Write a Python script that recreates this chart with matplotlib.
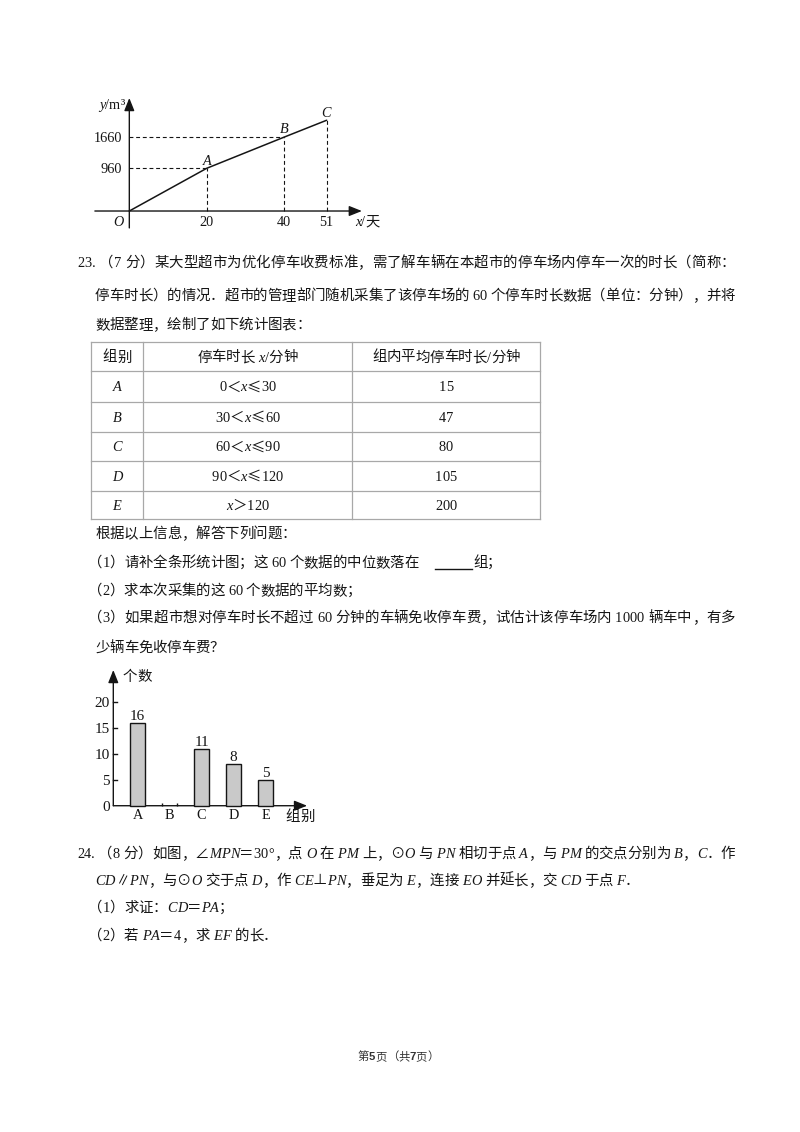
import matplotlib
matplotlib.use('Agg')
import matplotlib.pyplot as plt
from matplotlib.transforms import Affine2D
from matplotlib.font_manager import FontProperties
from matplotlib.lines import Line2D

# ---------------- data ----------------
days = [0, 20, 40, 51]
volume = [0, 960, 1660, 2040]
point_names = ['', 'A', 'B', 'C']
top_yticks = [960, 1660]
top_xticks = [20, 40, 51]

table_groups = ['A', 'B', 'C', 'D', 'E']
range_low = ['0', '30', '60', '90', None]
range_high = ['30', '60', '90', '120', '120']
group_means = ['15', '47', '80', '105', '200']

bar_groups = ['A', 'B', 'C', 'D', 'E']
bar_counts = [16, None, 11, 8, 5]      # group B left blank in the problem
bar_yticks = [0, 5, 10, 15, 20]

# ---------------- page setup ----------------
W, H = 800, 1132
fig = plt.figure(figsize=(W / 100, H / 100), dpi=100)
fig.patch.set_facecolor('white')
PX = Affine2D().scale(1 / W, -1 / H).translate(0, 1) + fig.transFigure
renderer = fig.canvas.get_renderer()
INK = '#151515'
BODY = 10.4

STYLES = {
    'n': (['Liberation Serif', 'Noto Sans CJK SC', 'DejaVu Serif'], 'normal', 'normal'),
    'i': (['Liberation Serif', 'Noto Sans CJK SC', 'DejaVu Serif'], 'italic', 'normal'),
    'c': (['Noto Sans CJK SC', 'Liberation Serif', 'DejaVu Sans'], 'normal', 'normal'),
    's': (['Noto Sans CJK SC', 'Liberation Sans'], 'normal', 'normal'),
    'sb': (['Liberation Sans', 'Noto Sans CJK SC'], 'normal', 'bold'),
}
_cache = {}


def fprop(st, size):
    fam, sty, wt = STYLES[st]
    return FontProperties(family=fam, style=sty, weight=wt, size=size)


def adv(ch, st, size):
    key = (ch, st, size)
    if key not in _cache:
        fp = fprop(st, size)
        w1 = renderer.get_text_width_height_descent('a' + ch + 'a', fp, ismath=False)[0]
        w0 = renderer.get_text_width_height_descent('aa', fp, ismath=False)[0]
        _cache[key] = w1 - w0
    return _cache[key]


def draw_line(x, y, segs, size=BODY, right=None, center=None, color=INK):
    items = [(ch, st) for s, st in segs for ch in s]
    ws = [adv(ch, st, size) for ch, st in items]
    total = sum(ws)
    extra = 0.0
    if right is not None and len(items) > 1:
        extra = (right - x - total) / (len(items) - 1)
    if center is not None:
        x = center - total / 2
    cx = x
    for (ch, st), w in zip(items, ws):
        if ch != ' ':
            fam, sty, wt = STYLES[st]
            fig.text(cx, y, ch, transform=PX, fontsize=size, family=fam,
                     style=sty, weight=wt, ha='left', va='baseline', color=color)
        cx += w + extra
    return cx


def N(s):
    return (s, 'n')


def I(s):
    return (s, 'i')


# ---------------- top chart ----------------
ax1 = fig.add_axes([90 / W, 1 - 235 / H, 290 / W, 140 / H])
ax1.set_axis_off()
ax1.set_xlim(-10.16, 64.78)
ax1.set_ylim(-539, 2607)
arrow = dict(arrowstyle='-|>,head_length=0.55,head_width=0.22', color=INK,
             lw=1.0, mutation_scale=14, shrinkA=0, shrinkB=0)
ax1.annotate('', xy=(60.1, 0), xytext=(-8.9, 0), arrowprops=arrow)
ax1.annotate('', xy=(0, 2540), xytext=(0, -380), arrowprops=arrow)
ax1.plot(days, volume, color=INK, lw=1.1, solid_capstyle='round')
for k in range(1, len(days)):
    ax1.plot([days[k], days[k]], [0, volume[k]], color=INK, lw=0.8, dashes=(3.5, 2.5))
for yv in top_yticks:
    k = volume.index(yv)
    ax1.plot([0, days[k]], [yv, yv], color=INK, lw=0.8, dashes=(3.5, 2.5))
    ax1.annotate(str(yv), xy=(0, yv), xytext=(-7.6, -4.7), textcoords='offset pixels',
                 ha='right', va='baseline', fontsize=10.3, family='Liberation Serif', color=INK)
for xv in top_xticks:
    ax1.annotate(str(xv), xy=(xv, 0), xytext=(0, -15), textcoords='offset pixels',
                 ha='center', va='baseline', fontsize=10.3, family='Liberation Serif', color=INK)
ax1.annotate('O', xy=(0, 0), xytext=(-11, -15), textcoords='offset pixels',
             ha='center', va='baseline', fontsize=10.3, family='Liberation Serif',
             style='italic', color=INK)
label_off = {'A': (0, 3), 'B': (0, 4), 'C': (-1, 3)}
for k in range(1, len(days)):
    nm = point_names[k]
    ax1.annotate(nm, xy=(days[k], volume[k]), xytext=label_off[nm],
                 textcoords='offset pixels', ha='center', va='baseline', fontsize=10.3,
                 family='Liberation Serif', style='italic', color=INK)
draw_line(0, 109, [I('y'), N('/m³')], size=10.3, center=111.7)
draw_line(0, 225.5, [I('x'), N('/天')], size=10.3, center=367)

# ---------------- question 23 text ----------------
draw_line(77, 267, [N('23. （7 分）某大型超市为优化停车收费标准，需了解车辆在本超市的停车场内停车一次的时长（简称：')], right=735)
draw_line(95, 300, [N('停车时长）的情况．超市的管理部门随机采集了该停车场的 60 个停车时长数据（单位：分钟），并将')], right=735)
draw_line(95, 329, [N('数据整理，绘制了如下统计图表：')])

# ---------------- table ----------------
tab_left, tab_right = 91, 540
col_x = [91, 143, 351.7, 540]
row_y = [342, 371, 401.7, 431.7, 461, 490.7, 519]
TABC = '#a8a8a8'
for yy in row_y:
    fig.add_artist(Line2D([tab_left, tab_right], [yy, yy], transform=PX, color=TABC, lw=0.9))
for xx in col_x:
    fig.add_artist(Line2D([xx, xx], [row_y[0], row_y[-1]], transform=PX, color=TABC, lw=0.9))
ccols = [(col_x[i] + col_x[i + 1]) / 2 for i in range(3)]
hb = (row_y[0] + row_y[1]) / 2 + 5
draw_line(0, hb, [N('组别')], center=ccols[0])
draw_line(0, hb, [N('停车时长 '), I('x'), N('/分钟')], center=ccols[1])
draw_line(0, hb, [N('组内平均停车时长/分钟')], center=ccols[2])
for r, g in enumerate(table_groups):
    bl = (row_y[r + 1] + row_y[r + 2]) / 2 + 5
    draw_line(0, bl, [I(g)], center=ccols[0])
    if range_low[r] is None:
        segs = [I('x'), ('＞', 'c'), N(range_high[r])]
    else:
        segs = [N(range_low[r]), ('＜', 'c'), I('x'), ('≤', 'c'), N(range_high[r])]
    draw_line(0, bl, segs, center=ccols[1])
    draw_line(0, bl, [N(group_means[r])], center=ccols[2])

# ---------------- questions ----------------
PAREN_X = 88
draw_line(95, 538, [N('根据以上信息，解答下列问题：')])
draw_line(PAREN_X, 567, [N('（1）请补全条形统计图；这 60 个数据的中位数落在')])
fig.add_artist(Line2D([435, 472], [568.5, 568.5], transform=PX, color=INK, lw=1.0))
draw_line(473, 567, [N('组；')])
draw_line(PAREN_X, 595, [N('（2）求本次采集的这 60 个数据的平均数；')])
draw_line(PAREN_X, 622, [N('（3）如果超市想对停车时长不超过 60 分钟的车辆免收停车费，试估计该停车场内 1000 辆车中，有多')], right=735)
draw_line(95, 652, [N('少辆车免收停车费？')])

# ---------------- bar chart ----------------
ax2 = fig.add_axes([95 / W, 1 - 835 / H, 235 / W, 175 / H])
ax2.set_axis_off()
ax2.set_xlim(-1.328, 6.016)
ax2.set_ylim(-5.63, 28.02)
y_axis_x = -0.756
ax2.annotate('', xy=(y_axis_x, 26.1), xytext=(y_axis_x, 0), arrowprops=arrow)
ax2.annotate('', xy=(5.3, 0), xytext=(y_axis_x, 0), arrowprops=arrow)
bw = 0.47
for i, v in enumerate(bar_counts):
    if v is None:
        ax2.vlines([i - bw / 2, i + bw / 2], 0, 0.6, color=INK, lw=1.0)
    else:
        ax2.bar([i], [v], width=bw, color='#c9c9c9', edgecolor=INK, linewidth=1.0, zorder=3)
        ax2.annotate(str(v), xy=(i, v), xytext=(0, 3), textcoords='offset pixels',
                     ha='center', va='baseline', fontsize=11, family='Liberation Serif', color=INK)
    ax2.annotate(bar_groups[i], xy=(i, 0), xytext=(0, -13.6), textcoords='offset pixels',
                 ha='center', va='baseline', fontsize=10.3, family='Liberation Serif', color=INK)
for t in bar_yticks:
    if t > 0:
        ax2.plot([y_axis_x, y_axis_x + 0.12], [t, t], color=INK, lw=1.0)
    ax2.annotate(str(t), xy=(y_axis_x, t), xytext=(-3.5, -5), textcoords='offset pixels',
                 ha='right', va='baseline', fontsize=11, family='Liberation Serif', color=INK)
draw_line(0, 680.5, [N('个数')], center=137)
draw_line(0, 821, [N('组别')], center=300)

# ---------------- question 24 ----------------
draw_line(77, 858, [N('24. （8 分）如图，∠'), I('MPN'), N('＝30°，点 '), I('O'), N(' 在 '), I('PM'),
                    N(' 上，⊙'), I('O'), N(' 与 '), I('PN'), N(' 相切于点 '), I('A'),
                    N('，与 '), I('PM'), N(' 的交点分别为 '), I('B'), N('，'), I('C'), N('．作')],
          right=735)
draw_line(95, 885, [I('CD'), N('∥'), I('PN'), N('，与⊙'), I('O'), N(' 交于点 '), I('D'),
                    N('，作 '), I('CE'), N('⊥'), I('PN'), N('，垂足为 '), I('E'), N('，连接 '),
                    I('EO'), N(' 并延长，交 '), I('CD'), N(' 于点 '), I('F'), N('．')])
draw_line(PAREN_X, 912, [N('（1）求证：'), I('CD'), N('＝'), I('PA'), N('；')])
draw_line(PAREN_X, 940, [N('（2）若 '), I('PA'), N('＝4，求 '), I('EF'), N(' 的长．')])

# ---------------- footer ----------------
draw_line(0, 1060, [('第', 's'), ('5', 'sb'), ('页（共', 's'), ('7', 'sb'), ('页）', 's')],
          size=8.2, center=398, color='#333333')

fig.savefig('out.png', dpi=100, facecolor='white')
